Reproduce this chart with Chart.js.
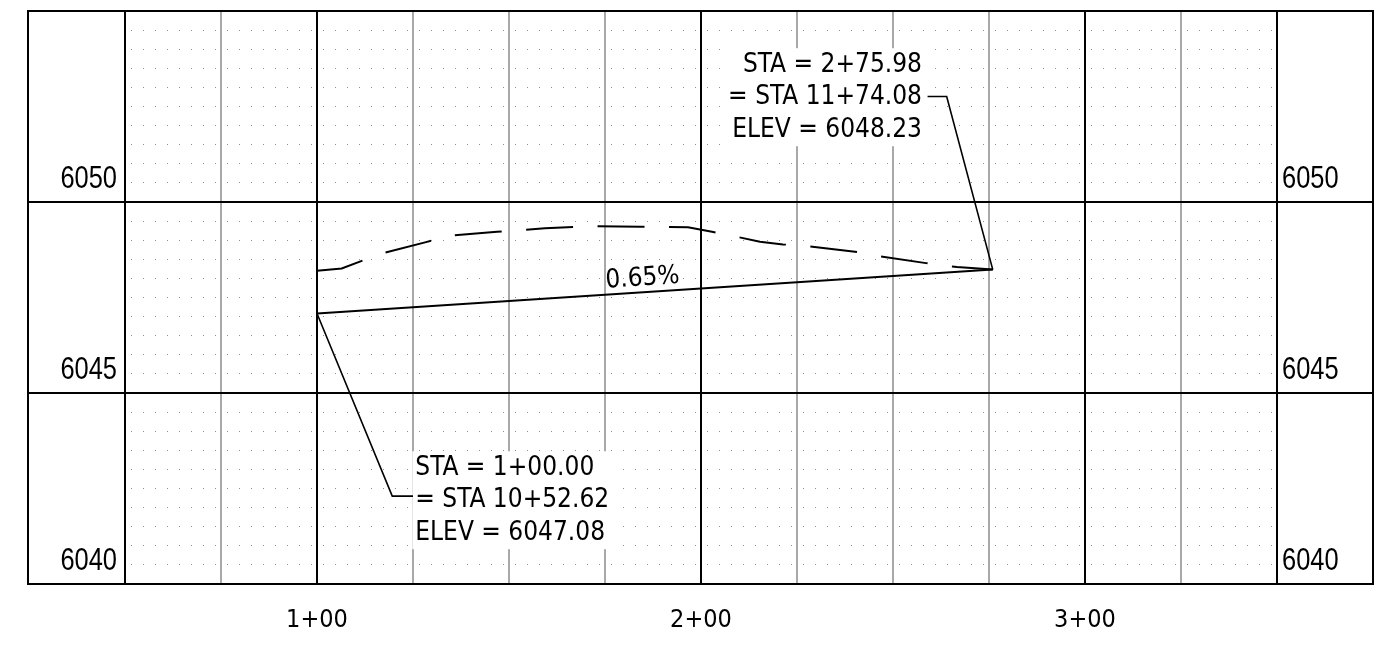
<!DOCTYPE html>
<html>
<head>
<meta charset="utf-8">
<script src="https://cdn.jsdelivr.net/npm/chart.js@4.4.0/dist/chart.umd.min.js"></script>
<style>
    html, body { margin: 0; padding: 0; background: #fff; }
</style>
</head>
<body>
<canvas id="profileChart" width="1385" height="646"></canvas>
<script>
// existing ground (dashed)
const groundStations = [100, 106.43, 116.41, 128.39, 134.64, 146.88, 159.38, 171.88, 184.38, 196.61,
    202.86, 209.30, 215.36, 221.35, 227.86, 240.10, 246.35, 258.59, 264.84, 266.67, 275.98];
const groundElevs = [6048.20, 6048.26, 6048.64, 6048.95, 6049.12, 6049.22, 6049.31, 6049.37, 6049.35, 6049.34,
    6049.22, 6049.09, 6048.96, 6048.89, 6048.84, 6048.70, 6048.58, 6048.40, 6048.32, 6048.30, 6048.23];

// proposed grade (PVIs)
const gradeStations = [100, 275.98];
const gradeElevs = [6047.08, 6048.23];
const equationStations = [1052.62, 1174.08];

const elevLabels = [6040, 6045, 6050];
const stationLabels = [100, 200, 300];

const LABEL_FONT = "'Liberation Sans', Arial, sans-serif";
const NOTE_FONT = "'DejaVu Sans Condensed', 'DejaVu Sans', Verdana, sans-serif";

function fmtSta(v) {
    const hundreds = Math.floor(v / 100);
    const rest = (v - hundreds * 100).toFixed(2).padStart(5, '0');
    return `${hundreds}+${rest}`;
}

function isMajorElev(ctx) {
    if (!ctx.tick) return false;
    return Math.abs(ctx.tick.value % 5) < 1e-6;
}

function isMajorSta(ctx) {
    if (!ctx.tick) return false;
    const v = ctx.tick.value;
    return v % 100 === 0 || v === 50 || v === 350;
}

// callout placement (station / elevation of leader elbow and text)
const callouts = [
    { idx: 0, elbow: [119.6, 6042.30], tail: 125.0, textSta: 125.6, textElev: 6042.18, align: 'left' },
    { idx: 1, elbow: [263.98, 6052.76], tail: 259.0, textSta: 257.55, textElev: 6052.73, align: 'right' },
];

const profileDecor = {
    id: 'profileDecor',
    afterDatasetsDraw(chart) {
        const { ctx } = chart;
        const { x, y, yRight } = chart.scales;
        const px = (s) => x.getPixelForValue(s);
        const py = (e) => y.getPixelForValue(e);

        ctx.save();

        // frame round the whole sheet and major elevation lines through the label columns
        ctx.strokeStyle = '#000';
        ctx.lineWidth = 2;
        const left = y.left;
        const right = yRight.right;
        ctx.strokeRect(left, py(y.max), right - left, py(y.min) - py(y.max));
        elevLabels.forEach((e) => {
            ctx.beginPath();
            ctx.moveTo(left, Math.round(py(e)));
            ctx.lineTo(right, Math.round(py(e)));
            ctx.stroke();
        });

        // elevation labels, narrow face (squeezed Liberation Sans)
        ctx.fillStyle = '#000';
        ctx.font = `31px ${LABEL_FONT}`;
        ctx.textBaseline = 'middle';
        elevLabels.forEach((e) => {
            const ly = py(e) - 23;
            [[y.right - 8, 'right'], [yRight.left + 5, 'left']].forEach(([lx, align]) => {
                ctx.save();
                ctx.translate(lx, ly);
                ctx.scale(0.82, 1);
                ctx.textAlign = align;
                ctx.fillText(String(e), 0, 0);
                ctx.restore();
            });
        });

        // PVI callouts
        ctx.font = `26px ${NOTE_FONT}`;
        const lineGap = 32.5;
        callouts.forEach((c) => {
            const sta = gradeStations[c.idx];
            const elev = gradeElevs[c.idx];
            const lines = [
                `STA = ${fmtSta(sta)}`,
                `= STA ${fmtSta(equationStations[c.idx])}`,
                `ELEV = ${elev.toFixed(2)}`,
            ];
            const w = Math.max(...lines.map((t) => ctx.measureText(t).width));
            const tx = px(c.textSta);
            const ty = py(c.textElev);
            const boxLeft = c.align === 'left' ? tx - 3 : tx - w - 3;
            ctx.fillStyle = '#fff';
            ctx.fillRect(boxLeft, ty - lineGap - 17, w + 9, lineGap * 2 + 33);

            ctx.fillStyle = '#000';
            ctx.textAlign = c.align;
            ctx.textBaseline = 'middle';
            lines.forEach((t, i) => ctx.fillText(t, tx, ty + (i - 1) * lineGap));

            ctx.lineWidth = 1.6;
            ctx.beginPath();
            ctx.moveTo(px(sta), py(elev));
            ctx.lineTo(px(c.elbow[0]), py(c.elbow[1]));
            ctx.lineTo(px(c.tail), py(c.elbow[1]));
            ctx.stroke();
        });

        // grade label along the line
        const grade = (gradeElevs[1] - gradeElevs[0]) / (gradeStations[1] - gradeStations[0]) * 100;
        const labelSta = 185;
        const labelElev = gradeElevs[0] + (labelSta - gradeStations[0]) * grade / 100;
        const ang = Math.atan2(py(gradeElevs[1]) - py(gradeElevs[0]), px(gradeStations[1]) - px(gradeStations[0]));
        ctx.translate(px(labelSta), py(labelElev));
        ctx.rotate(ang);
        ctx.textAlign = 'center';
        ctx.textBaseline = 'alphabetic';
        ctx.fillText(`${grade.toFixed(2)}%`, 0, -7);

        ctx.restore();
    },
};

const ctx = document.getElementById('profileChart');
new Chart(ctx, {
    type: 'line',
    data: {
        datasets: [
            {
                label: 'Existing ground',
                data: groundStations.map((s, i) => ({ x: s, y: groundElevs[i] })),
                borderColor: '#000',
                borderWidth: 2,
                borderDash: [47, 24.5],
                pointRadius: 0,
                tension: 0,
                fill: false,
            },
            {
                label: 'Proposed grade',
                data: gradeStations.map((s, i) => ({ x: s, y: gradeElevs[i] })),
                borderColor: '#000',
                borderWidth: 2,
                pointRadius: 0,
                tension: 0,
                fill: false,
            },
        ],
    },
    options: {
        responsive: false,
        animation: false,
        events: [],
        layout: { padding: { left: 28, right: 12, top: 11, bottom: 0 } },
        plugins: { legend: { display: false }, tooltip: { enabled: false } },
        scales: {
            x: {
                type: 'linear',
                min: 50,
                max: 350,
                ticks: {
                    stepSize: 25,
                    autoSkip: false,
                    maxRotation: 0,
                    padding: 21,
                    color: '#000',
                    font: { family: NOTE_FONT, size: 25 },
                    callback: (v) => (stationLabels.includes(v) ? `${v / 100}+00` : ''),
                },
                grid: {
                    drawTicks: false,
                    color: (c) => (isMajorSta(c) ? '#000' : '#a8a8a8'),
                    lineWidth: 2,
                },
                border: { display: false },
                afterFit: (s) => { s.height = 62; s.paddingLeft = 0; s.paddingRight = 0; },
            },
            y: {
                type: 'linear',
                position: 'left',
                min: 6040,
                max: 6055,
                ticks: { stepSize: 0.5, autoSkip: false, display: false },
                grid: {
                    drawTicks: false,
                    color: (c) => (isMajorElev(c) ? '#000' : '#8f8f8f'),
                    lineWidth: (c) => (isMajorElev(c) ? 2 : 1),
                },
                border: {
                    display: false,
                    dash: (c) => (isMajorElev(c) ? [] : [1, 11]),
                    dashOffset: 6,
                },
                afterFit: (s) => { s.width = 97; s.paddingTop = 0; s.paddingBottom = 0; },
            },
            yRight: {
                type: 'linear',
                position: 'right',
                min: 6040,
                max: 6055,
                ticks: { stepSize: 5, display: false },
                grid: { display: false, drawTicks: false },
                border: { display: false },
                afterFit: (s) => { s.width = 96; s.paddingTop = 0; s.paddingBottom = 0; },
            },
        },
    },
    plugins: [profileDecor],
});
</script>
</body>
</html>
